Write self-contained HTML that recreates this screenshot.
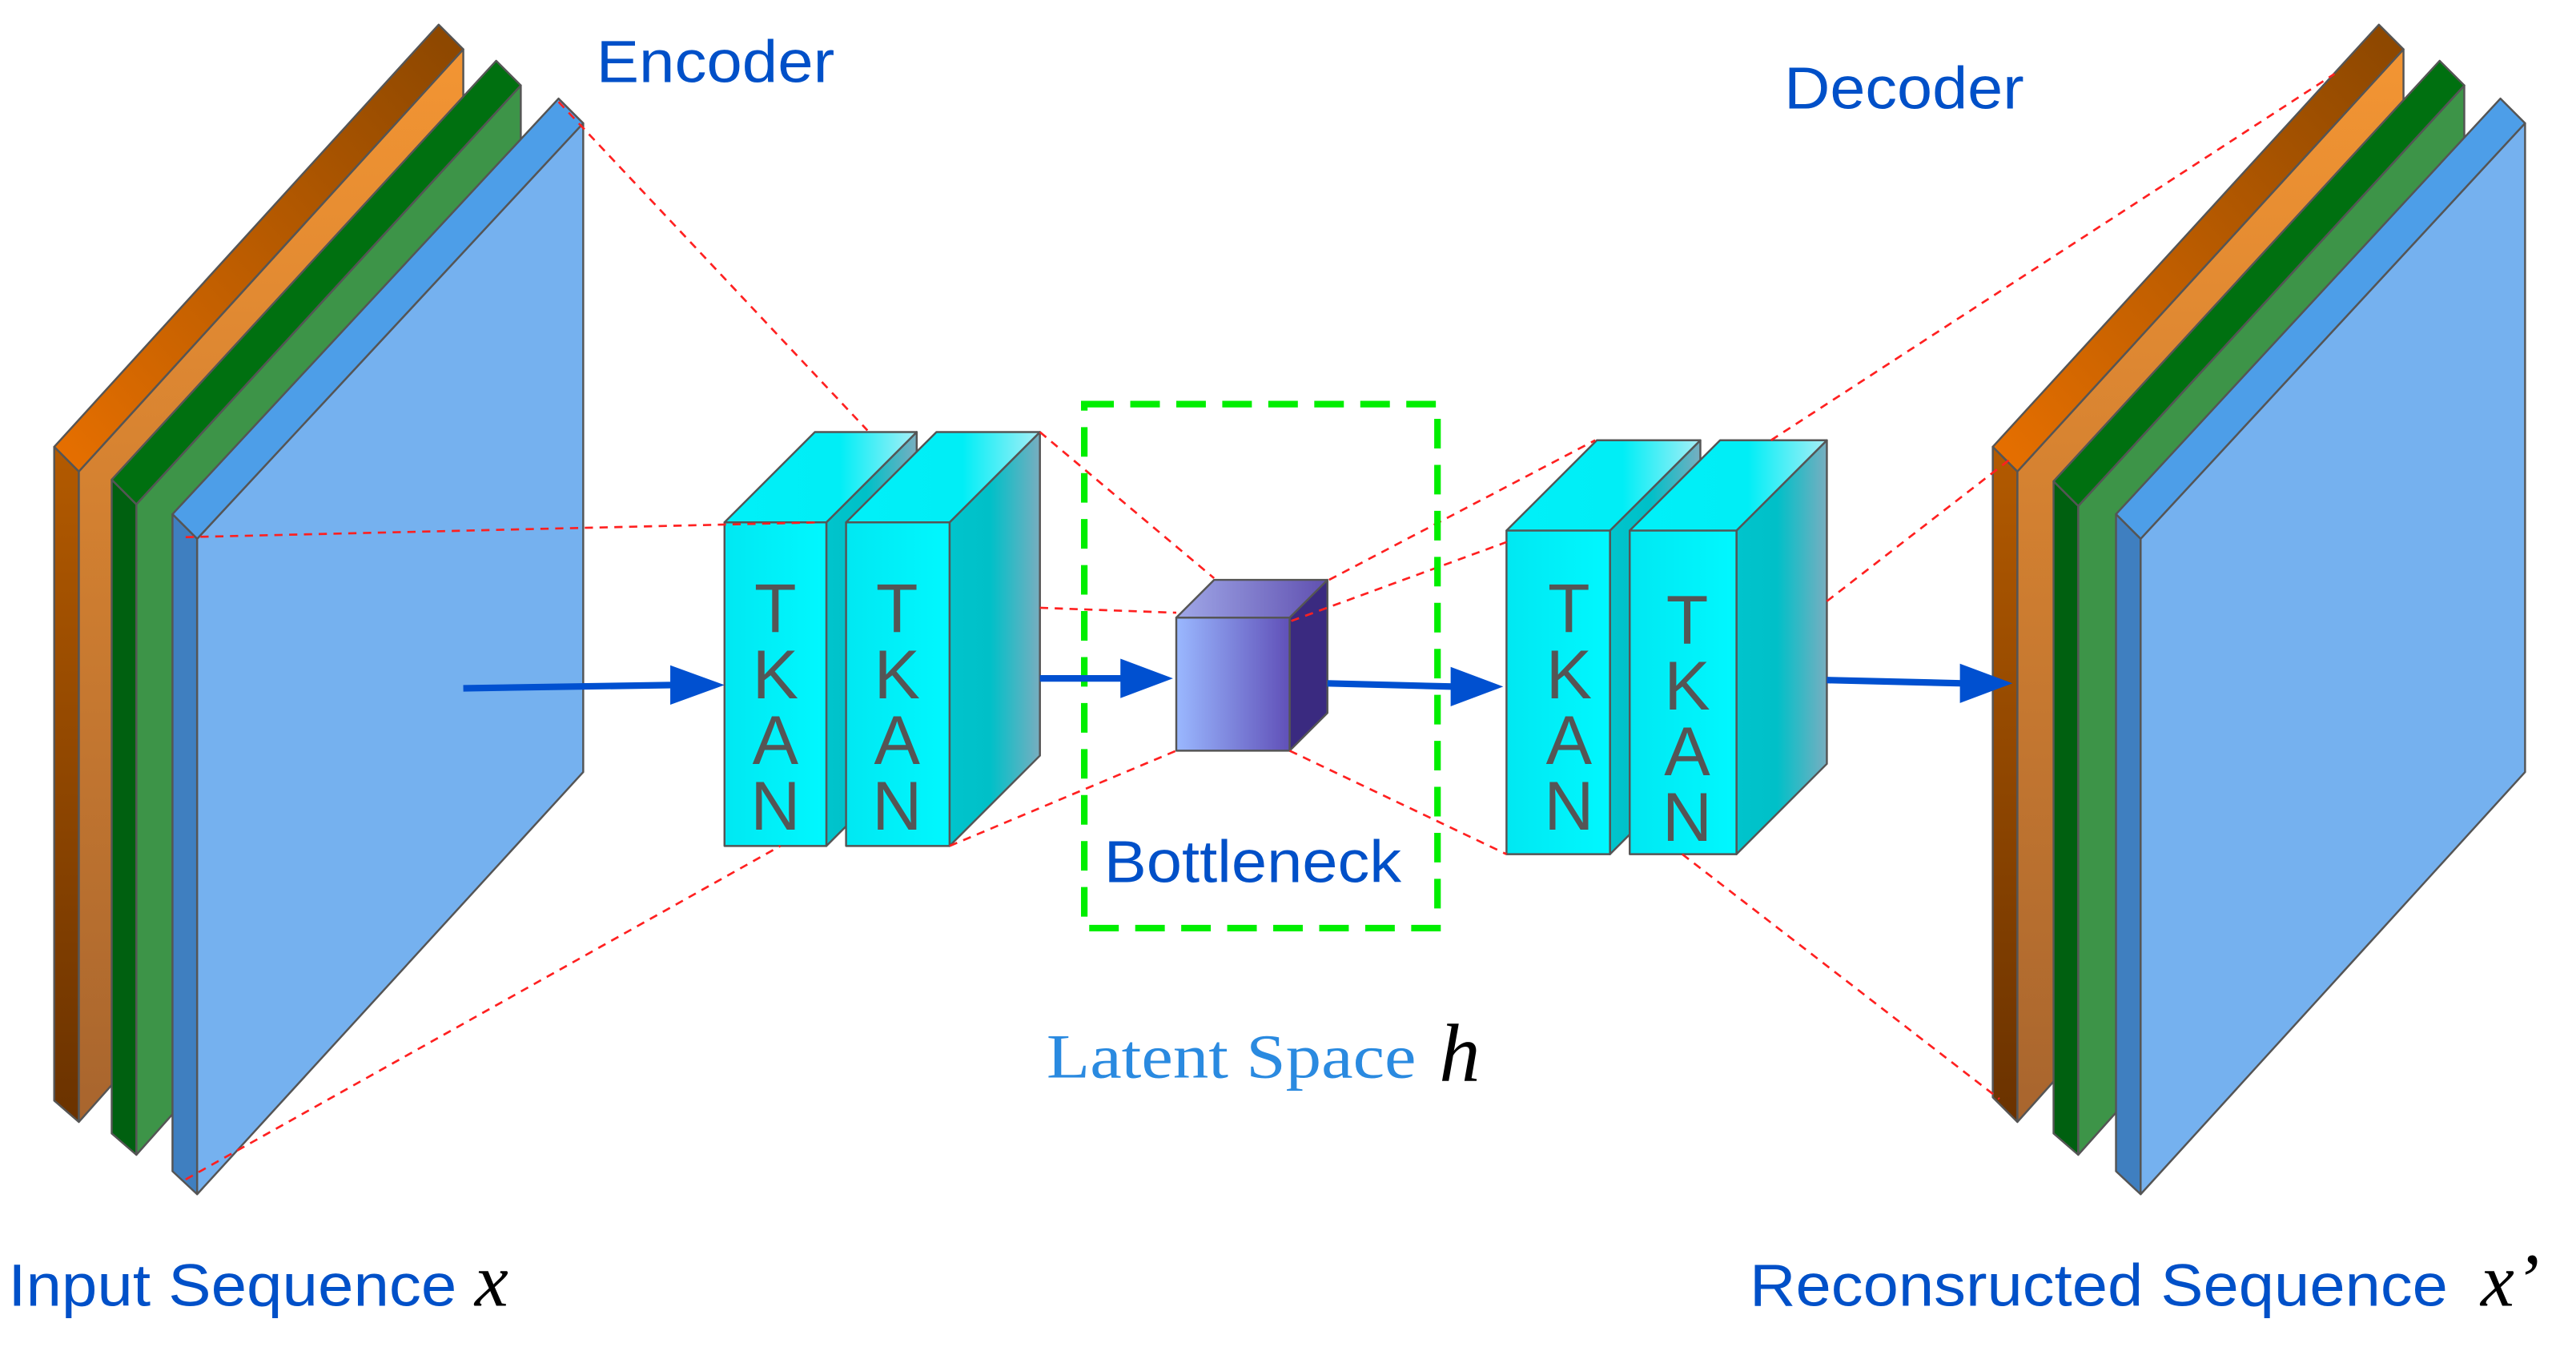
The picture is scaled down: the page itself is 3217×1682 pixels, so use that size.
<!DOCTYPE html>
<html><head><meta charset="utf-8"><style>
html,body{margin:0;padding:0;background:#fff;}
svg{display:block;}
</style></head><body>
<svg width="3217" height="1682" viewBox="0 0 1568 820" preserveAspectRatio="none" xmlns="http://www.w3.org/2000/svg">
<defs>
<linearGradient id="og" x1="0" y1="0" x2="0" y2="1"><stop offset="0" stop-color="#f39533"/><stop offset="1" stop-color="#a8652e"/></linearGradient>
<linearGradient id="od" x1="0" y1="0" x2="0" y2="1"><stop offset="0" stop-color="#b35a00"/><stop offset="1" stop-color="#6a3200"/></linearGradient>
<linearGradient id="ot" x1="0" y1="1" x2="1" y2="0"><stop offset="0" stop-color="#e87000"/><stop offset="1" stop-color="#8a4600"/></linearGradient>
<linearGradient id="cs" x1="0" y1="0" x2="1" y2="0"><stop offset="0" stop-color="#00c4cc"/><stop offset="0.45" stop-color="#00c0c8"/><stop offset="1" stop-color="#78aec0"/></linearGradient>
<linearGradient id="ct" x1="0" y1="0" x2="1" y2="0"><stop offset="0" stop-color="#00f0f8"/><stop offset="0.6" stop-color="#00eef6"/><stop offset="1" stop-color="#a8eef6"/></linearGradient>
<linearGradient id="cf" x1="0" y1="0" x2="1" y2="0"><stop offset="0" stop-color="#00e8f2"/><stop offset="1" stop-color="#00f8ff"/></linearGradient>
<linearGradient id="bf" x1="0" y1="0" x2="1" y2="0"><stop offset="0" stop-color="#9ab8ff"/><stop offset="1" stop-color="#6050b8"/></linearGradient>
<linearGradient id="bt" x1="0" y1="0" x2="1" y2="0"><stop offset="0" stop-color="#a0a8e8"/><stop offset="1" stop-color="#6050b0"/></linearGradient>
</defs>

<g stroke="#555" stroke-width="1.2" stroke-linejoin="round">
<polygon points="33,272 48,287 48,683 33,670" fill="url(#od)"/>
<polygon points="48,287 282,30 282,420 48,683" fill="url(#og)"/>
<polygon points="33,272 267,15 282,30 48,287" fill="url(#ot)"/>
<polygon points="68,292 83,307 83,703 68,690" fill="#006010"/>
<polygon points="83,307 317,52 317,440 83,703" fill="#3d9448"/>
<polygon points="68,292 302,37 317,52 83,307" fill="#007010"/>
<polygon points="105,313 120,328 120,727 105,713" fill="#3f7fc0"/>
<polygon points="120,328 355,75 355,470 120,727" fill="#75b1ef"/>
<polygon points="105,313 340,60 355,75 120,328" fill="#4d9ee8"/>

<polygon points="1213,272 1228,287 1228,683 1213,668" fill="url(#od)"/>
<polygon points="1228,287 1463,30 1463,420 1228,683" fill="url(#og)"/>
<polygon points="1213,272 1448,15 1463,30 1228,287" fill="url(#ot)"/>
<polygon points="1250,293 1265,308 1265,703 1250,690" fill="#006010"/>
<polygon points="1265,308 1500,52 1500,440 1265,703" fill="#3d9448"/>
<polygon points="1250,293 1485,37 1500,52 1265,308" fill="#007010"/>
<polygon points="1288,313 1303,328 1303,727 1288,713" fill="#3f7fc0"/>
<polygon points="1303,328 1537,75 1537,470 1303,727" fill="#75b1ef"/>
<polygon points="1288,313 1522,60 1537,75 1303,328" fill="#4d9ee8"/>

<polygon points="503,318 558,263 558,460 503,515" fill="url(#cs)"/>
<polygon points="441,318 496,263 558,263 503,318" fill="url(#ct)"/>
<rect x="441" y="318" width="62" height="197" fill="url(#cf)"/>
<polygon points="578,318 633,263 633,460 578,515" fill="url(#cs)"/>
<polygon points="515,318 570,263 633,263 578,318" fill="url(#ct)"/>
<rect x="515" y="318" width="63" height="197" fill="url(#cf)"/>

<polygon points="980,323 1035,268 1035,465 980,520" fill="url(#cs)"/>
<polygon points="917,323 972,268 1035,268 980,323" fill="url(#ct)"/>
<rect x="917" y="323" width="63" height="197" fill="url(#cf)"/>
<polygon points="1057,323 1112,268 1112,465 1057,520" fill="url(#cs)"/>
<polygon points="992,323 1047,268 1112,268 1057,323" fill="url(#ct)"/>
<rect x="992" y="323" width="65" height="197" fill="url(#cf)"/>

<polygon points="785,376 808,353 808,434 785,457" fill="#3a2a80"/>
<polygon points="716,376 739,353 808,353 785,376" fill="url(#bt)"/>
<rect x="716" y="376" width="69" height="81" fill="url(#bf)"/>
</g>

<g font-family="Liberation Sans, sans-serif" font-size="42" fill="#555" text-anchor="middle">
<text x="472" y="385">T</text><text x="472" y="425">K</text><text x="472" y="465">A</text><text x="472" y="505">N</text>
<text x="546" y="385">T</text><text x="546" y="425">K</text><text x="546" y="465">A</text><text x="546" y="505">N</text>
<text x="955" y="385">T</text><text x="955" y="425">K</text><text x="955" y="465">A</text><text x="955" y="505">N</text>
<text x="1027" y="392">T</text><text x="1027" y="432">K</text><text x="1027" y="472">A</text><text x="1027" y="512">N</text>
</g>

<g stroke="#ff2020" stroke-width="1.3" stroke-dasharray="5,4" fill="none">
<line x1="340" y1="62" x2="528" y2="262"/>
<line x1="113" y1="327" x2="498" y2="318"/>
<line x1="113" y1="718" x2="475" y2="515"/>
<line x1="633" y1="263" x2="739" y2="352"/>
<line x1="633" y1="370" x2="716" y2="373"/>
<line x1="578" y1="515" x2="716" y2="457"/>
<line x1="786" y1="378" x2="917" y2="330"/>
<line x1="809" y1="353" x2="971" y2="268"/>
<line x1="785" y1="457" x2="917" y2="520"/>
<line x1="1078" y1="268" x2="1421" y2="45"/>
<line x1="1112" y1="366" x2="1223" y2="280"/>
<line x1="1024" y1="520" x2="1217" y2="669"/>
</g>

<rect x="660" y="246" width="215" height="319" fill="none" stroke="#00ee00" stroke-width="4" stroke-dasharray="18,10"/>

<g stroke="#0050d0" stroke-width="4" fill="none">
<line x1="282" y1="419" x2="410" y2="417"/>
<line x1="633" y1="413" x2="684" y2="413"/>
<line x1="808" y1="416" x2="885" y2="418"/>
<line x1="1112" y1="414" x2="1195" y2="416"/>
</g>
<g fill="#0050d0">
<polygon points="408,405 441,417 408,429"/>
<polygon points="682,401 714,413 682,425"/>
<polygon points="883,406 915,418 883,430"/>
<polygon points="1193,404 1225,416 1193,428"/>
</g>

<g font-family="Liberation Sans, sans-serif" font-size="36" fill="#0050c8" lengthAdjust="spacingAndGlyphs">
<text x="363" y="50" textLength="145" lengthAdjust="spacingAndGlyphs">Encoder</text>
<text x="1086" y="66" textLength="146" lengthAdjust="spacingAndGlyphs">Decoder</text>
<text x="672" y="537" textLength="181" lengthAdjust="spacingAndGlyphs">Bottleneck</text>
<text x="5" y="795" textLength="273" lengthAdjust="spacingAndGlyphs">Input Sequence</text>
<text x="1065" y="795" textLength="425" lengthAdjust="spacingAndGlyphs">Reconsructed Sequence</text>
</g>
<text x="637" y="656" font-family="Liberation Serif, serif" font-size="38" fill="#2a8ae0" textLength="225" lengthAdjust="spacingAndGlyphs">Latent Space</text>
<text x="876" y="658" font-family="Liberation Serif, serif" font-style="italic" font-size="50" fill="#000">h</text>
<text x="289" y="795" font-family="Liberation Serif, serif" font-style="italic" font-size="46" fill="#000">x</text>
<text x="1510" y="795" font-family="Liberation Serif, serif" font-style="italic" font-size="46" fill="#000">x’</text>
</svg>
</body></html>
